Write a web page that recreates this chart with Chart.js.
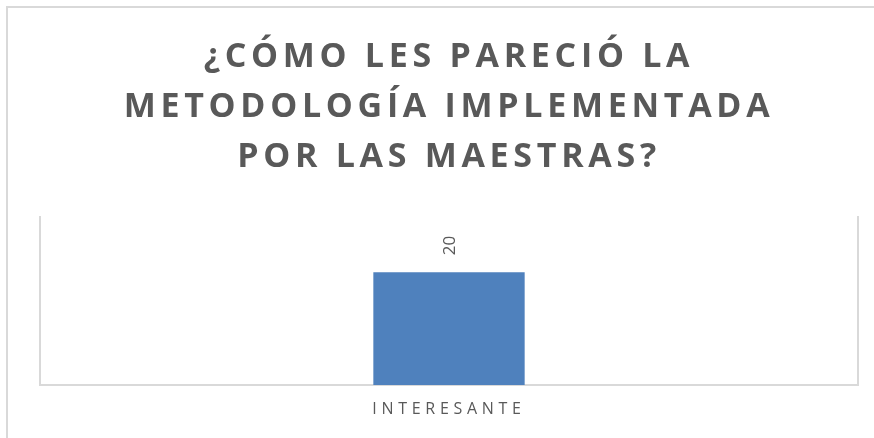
<!DOCTYPE html>
<html>
<head>
<meta charset="utf-8">
<script src="https://cdn.jsdelivr.net/npm/chart.js@4"></script>
<style>
  body { margin: 0; background: #fff; }
</style>
</head>
<body>
<canvas id="grafico" width="874" height="438"></canvas>
<script>
// Datos de la gráfica
const categorias = ["INTERESANTE"];
const valores = [20];
const tituloLineas = ["¿CÓMO LES PARECIÓ LA", "METODOLOGÍA IMPLEMENTADA", "POR LAS MAESTRAS?"];
const ejeY = { min: 0, max: 30 };

const gris = "#595959";
const lineaGris = "#d9d9d9";

// Marco exterior y espaciado de letras
const marcoPlugin = {
  id: "marco",
  beforeDraw(chart) {
    const ctx = chart.ctx;
    ctx.save();
    ctx.strokeStyle = lineaGris;
    ctx.lineWidth = 2;
    ctx.beginPath();
    ctx.moveTo(7, 438);
    ctx.lineTo(7, 7);
    ctx.lineTo(874, 7);
    ctx.stroke();
    ctx.restore();
    ctx.letterSpacing = "4.7px";
  }
};

// Etiqueta de valor girada sobre la barra
const etiquetaPlugin = {
  id: "etiqueta",
  afterDatasetsDraw(chart) {
    const ctx = chart.ctx;
    const meta = chart.getDatasetMeta(0);
    meta.data.forEach((bar, i) => {
      ctx.save();
      ctx.letterSpacing = "0px";
      ctx.translate(bar.x, bar.y - 17);
      ctx.rotate(-Math.PI / 2);
      ctx.font = "17px 'Open Sans'";
      ctx.fillStyle = gris;
      ctx.textAlign = "left";
      ctx.textBaseline = "middle";
      ctx.fillText(String(valores[i]), 0, 1);
      ctx.restore();
    });
  }
};

new Chart(document.getElementById("grafico"), {
  type: "bar",
  data: {
    labels: categorias,
    datasets: [{
      data: valores,
      backgroundColor: "#4f81bd",
      barPercentage: 0.185,
      categoryPercentage: 1
    }]
  },
  options: {
    responsive: false,
    animation: false,
    layout: { padding: { top: 32, left: 40, right: 16, bottom: 0 } },
    plugins: {
      legend: { display: false },
      tooltip: { enabled: false },
      title: {
        display: true,
        text: tituloLineas,
        color: gris,
        font: { family: "'Open Sans'", size: 34, weight: "bold", lineHeight: 1.47 },
        padding: { top: 0, bottom: 34 }
      }
    },
    scales: {
      x: {
        grid: { color: lineaGris, lineWidth: 2, tickLength: 0 },
        border: { color: lineaGris, width: 2 },
        ticks: { color: gris, font: { family: "'Open Sans'", size: 16 }, padding: 15 },
        afterFit(s) { s.height = 53; }
      },
      y: {
        display: false,
        min: ejeY.min,
        max: ejeY.max
      }
    }
  },
  plugins: [marcoPlugin, etiquetaPlugin]
});
</script>
</body>
</html>
